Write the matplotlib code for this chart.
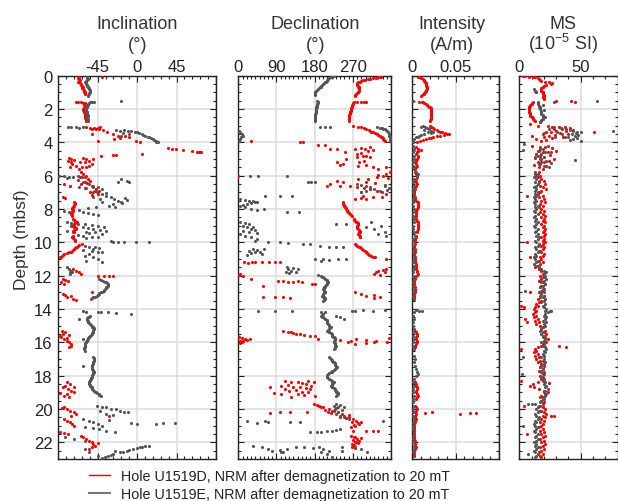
import matplotlib
matplotlib.use("Agg")
import matplotlib.pyplot as plt
from matplotlib.lines import Line2D
from matplotlib.ticker import MultipleLocator, FixedLocator, FixedFormatter

plt.rcParams["font.family"] = ["Liberation Sans", "DejaVu Sans"]
plt.rcParams["mathtext.fontset"] = "custom"
plt.rcParams["mathtext.rm"] = "Liberation Sans"
plt.rcParams["mathtext.default"] = "regular"
plt.rcParams["axes.unicode_minus"] = False

# ---------------------------------------------------------------- data
# (depth in mbsf, value) pairs per hole and per measurement

# Inclination (deg)
inc_d = [
    (0.05, -40),
    (0.1, -66), (0.15, -67), (0.2, -66), (0.25, -65), (0.3, -66), (0.35, -67), (0.4, -66),
    (0.45, -65), (0.5, -64), (0.55, -64), (0.6, -63), (0.65, -63), (0.7, -62), (0.75, -63),
    (0.8, -62), (0.85, -61), (0.9, -61), (0.95, -61), (1.0, -60), (1.05, -60), (1.1, -60),
    (1.55, -70), (1.58, -67), (1.6, -64), (1.62, -62), (1.65, -60), (1.7, -61), (1.75, -60),
    (1.8, -59), (1.85, -60), (1.9, -61), (1.95, -61), (2.0, -62), (2.05, -62), (2.1, -61),
    (2.15, -61), (2.2, -61), (2.25, -60), (2.3, -60), (2.35, -60), (2.4, -60), (2.45, -59),
    (2.5, -59), (2.55, -59), (2.6, -58), (2.65, -58), (2.7, -58),
    (3.05, -42), (3.1, -58), (3.12, -54), (3.15, -49), (3.15, -45), (3.2, -52), (3.2, -47),
    (3.22, -43), (3.25, -39), (3.4, -34), (3.5, -28), (3.5, -51), (3.6, -22), (3.6, -14),
    (3.7, -9), (3.76, -20), (3.8, -26), (3.9, -45), (3.9, -1), (3.96, 3),
    (4.35, 35), (4.38, 40), (4.4, 44), (4.45, 52), (4.52, 63), (4.55, 68), (4.57, 71),
    (4.55, 73), (4.6, 72), (4.7, 5), (4.76, -28), (4.78, -24), (4.8, -41),
    (4.95, -78), (4.95, -62), (5.0, -75), (5.0, -58), (5.02, -50), (5.05, -72), (5.1, -79),
    (5.1, -55), (5.15, -65), (5.2, -76), (5.2, -60), (5.3, -74), (5.3, -52), (5.4, -70),
    (5.4, -55), (5.45, -63), (5.5, -77), (5.5, -58), (5.6, -66),
    (5.8, -64), (5.9, -62), (6.0, -58), (6.05, -65), (6.1, -60), (6.2, -56), (6.25, -68),
    (6.3, -54), (6.4, -60), (6.45, -57), (6.5, -64), (6.5, -83), (6.6, -52), (6.6, -77),
    (6.7, -50), (6.75, -60), (6.8, -47), (6.9, -43), (6.95, -50), (7.0, -54), (7.1, -45),
    (7.15, -52), (7.3, -85), (7.32, -82),
    (7.6, -72), (7.65, -71), (7.7, -71), (7.75, -72), (7.8, -72), (7.85, -73), (7.9, -73),
    (7.95, -74), (8.0, -74), (8.05, -73), (8.1, -73), (8.15, -74), (8.2, -74), (8.25, -75),
    (8.3, -75), (8.35, -74), (8.4, -74),
    (8.6, -73), (8.65, -72), (8.7, -71), (8.75, -70), (8.8, -69), (8.85, -71), (8.9, -72),
    (8.95, -73), (9.0, -74), (9.05, -72), (9.1, -71), (9.15, -70), (9.2, -70), (9.25, -72),
    (9.3, -73), (9.35, -73), (9.4, -72),
    (9.6, -73), (9.65, -74), (9.7, -74), (9.75, -73), (9.8, -72), (9.85, -71), (9.9, -71),
    (10.1, -63), (10.15, -66), (10.2, -68), (10.25, -69), (10.3, -70), (10.35, -71),
    (10.4, -72), (10.45, -73), (10.5, -74), (10.55, -76), (10.6, -78), (10.65, -80),
    (10.7, -83), (10.75, -85), (10.8, -86), (10.85, -87), (10.9, -88),
    (11.6, -73), (11.7, -70), (11.75, -77), (11.8, -66), (11.9, -64),
    (12.0, -45), (12.0, -38), (12.02, -32), (12.0, -28),
    (12.2, -85), (12.25, -82), (12.3, -79), (12.4, -87), (12.5, -84),
    (13.0, -51), (13.1, -85), (13.15, -82), (13.2, -76), (13.3, -80), (13.4, -73), (13.45, -70),
    (15.3, -86), (15.4, -82), (15.5, -85), (15.55, -78), (15.6, -88), (15.7, -87), (15.75, -80),
    (15.8, -84), (15.9, -80), (16.0, -78), (16.1, -75), (16.2, -76), (16.3, -78),
    (18.4, -80), (18.5, -77), (18.6, -82), (18.65, -72), (18.7, -85), (18.8, -79), (18.9, -76),
    (19.0, -72), (19.05, -88), (19.1, -80), (19.2, -84), (19.3, -78),
    (19.9, -84), (19.95, -86), (20.0, -80), (20.1, -77), (20.2, -72), (20.3, -70), (20.4, -75),
    (20.4, -32),
    (20.6, -84), (20.7, -80), (20.8, -77), (20.9, -74), (21.0, -72),
    (21.4, -88), (21.45, -83), (21.5, -79),
    (21.6, -64), (21.7, -62), (21.8, -58), (21.9, -55), (22.0, -52), (22.05, -45), (22.1, -50),
    (22.2, -48), (22.3, -52), (22.4, -55),
]

inc_e = [
    (0.1, -57), (0.15, -57), (0.2, -56), (0.25, -57), (0.3, -58), (0.35, -58), (0.4, -59),
    (0.45, -58), (0.5, -58), (0.55, -57), (0.6, -57), (0.65, -56), (0.7, -56), (0.75, -55),
    (0.8, -55), (0.85, -54), (0.9, -54), (0.95, -54), (1.0, -54), (1.05, -55), (1.1, -55),
    (1.15, -56), (1.2, -56),
    (1.54, -19), (1.55, -52), (1.57, -49), (1.6, -54), (1.65, -55), (1.7, -56), (1.75, -56),
    (1.8, -57), (1.85, -57), (1.9, -57), (1.95, -58), (2.0, -58), (2.05, -58), (2.1, -58),
    (2.15, -57), (2.2, -57), (2.25, -57), (2.3, -57), (2.35, -56), (2.4, -56), (2.45, -57),
    (2.5, -57), (2.55, -57), (2.6, -56), (2.65, -56), (2.7, -56),
    (3.08, -79), (3.1, -75), (3.1, -70), (3.12, -66), (3.1, -62), (3.28, -24), (3.3, -20),
    (3.25, -15), (3.3, -11), (3.32, -7), (3.35, -3), (3.38, 0), (3.42, -16), (3.45, 2),
    (3.5, -9), (3.5, 5), (3.55, 7), (3.6, 9), (3.62, -19), (3.65, 12), (3.7, 14), (3.75, 16),
    (3.8, 18), (3.85, 19), (3.9, 21), (3.95, 22), (3.97, 24),
    (6.0, -89), (6.02, -84), (6.05, -78), (6.1, -73), (6.0, -67), (6.1, -63), (6.15, -80),
    (6.2, -18), (6.3, -12), (6.38, -9), (6.35, -22), (6.4, -62), (6.5, -55), (6.6, -50),
    (6.65, -66), (6.7, -45), (6.8, -40), (6.75, -58), (6.9, -48), (7.0, -46), (7.05, -36),
    (7.1, -40), (7.2, -35), (7.25, -50), (7.3, -30), (7.35, -14), (7.4, -26), (7.42, -42),
    (7.45, -12), (7.5, -22), (7.55, -19), (7.6, -40), (7.65, -17), (7.7, -28), (7.8, -32),
    (7.85, -47), (7.9, -25), (7.95, -56),
    (8.05, -66), (8.1, -83), (8.15, -78), (8.2, -62), (8.25, -56), (8.3, -50), (8.35, -45),
    (8.8, -80), (8.85, -75), (8.9, -68), (8.92, -60), (8.95, -52), (9.0, -45), (9.02, -75),
    (9.05, -38), (9.1, -62), (9.15, -56), (9.2, -50), (9.25, -42), (9.3, -35), (9.32, -80),
    (9.35, -58), (9.4, -48), (9.45, -55), (9.5, -40), (9.55, -67), (9.6, -62), (9.65, -52),
    (9.7, -45), (9.75, -58),
    (9.9, -30), (9.95, -22), (9.97, -27), (10.0, -15), (10.0, -1), (10.0, 13),
    (10.2, -60), (10.25, -48), (10.3, -55), (10.35, -43), (10.4, -50), (10.45, -62),
    (10.5, -52), (10.55, -45), (10.6, -40), (10.7, -55), (10.8, -60), (10.9, -50),
    (11.0, -45), (11.1, -58), (11.15, -40),
    (11.5, -80), (11.6, -78), (11.7, -76), (11.8, -74), (11.9, -77),
    (12.2, -43), (12.25, -41), (12.3, -39), (12.35, -37), (12.4, -35), (12.45, -34),
    (12.5, -33), (12.55, -33), (12.6, -33), (12.65, -34), (12.7, -35), (12.75, -36),
    (12.8, -37), (12.85, -38), (12.9, -38), (12.95, -40), (13.0, -41), (13.05, -43),
    (13.1, -44), (13.15, -45), (13.2, -46), (13.25, -48), (13.3, -50), (13.35, -52), (13.4, -53),
    (14.1, -62), (14.15, -58), (14.15, -45), (14.2, -41), (14.2, -33), (14.25, -24), (14.3, -7),
    (14.4, -54), (14.45, -55), (14.5, -56), (14.55, -57), (14.6, -57), (14.6, -66), (14.65, -57),
    (14.7, -56), (14.75, -56), (14.8, -56), (14.85, -55), (14.9, -54), (14.95, -53), (15.0, -52),
    (15.05, -51), (15.1, -50), (15.15, -49), (15.2, -49), (15.25, -50), (15.3, -50),
    (15.35, -50), (15.4, -50), (15.45, -51), (15.5, -52), (15.55, -53), (15.6, -54),
    (15.65, -55), (15.7, -55), (15.75, -56), (15.8, -56), (15.8, -62), (15.85, -57),
    (15.9, -57), (15.95, -58), (16.0, -58), (16.05, -59), (16.1, -59), (16.15, -60),
    (16.2, -60), (16.25, -60), (16.3, -60), (16.35, -61), (16.4, -61), (16.5, -60),
    (16.9, -50), (16.95, -49), (17.0, -49), (17.05, -49), (17.1, -49), (17.15, -50),
    (17.2, -50), (17.25, -50), (17.3, -50), (17.35, -51), (17.4, -51), (17.4, -62),
    (17.45, -51), (17.5, -51), (17.55, -51), (17.6, -51), (17.65, -50), (17.7, -50),
    (17.75, -49), (17.8, -49), (17.85, -50), (17.9, -50), (17.95, -51), (18.0, -51),
    (18.05, -52), (18.1, -52), (18.15, -53), (18.2, -53), (18.25, -54), (18.3, -54),
    (18.35, -55), (18.4, -55), (18.45, -55), (18.5, -55), (18.55, -54), (18.6, -54),
    (18.65, -53), (18.7, -52), (18.75, -52), (18.8, -51), (18.85, -50), (18.9, -49),
    (18.95, -48), (19.0, -47), (19.05, -46), (19.1, -44), (19.15, -43), (19.2, -41),
    (19.8, -46), (19.85, -40), (19.9, -35), (20.0, -30), (20.0, -24), (20.1, -20), (20.1, -42),
    (20.2, -15), (20.2, -10), (20.3, -36), (20.35, -28),
    (20.6, -62), (20.65, -32), (20.7, -55), (20.8, -50), (20.85, -7), (20.85, 30), (20.85, 43),
    (20.87, 0), (20.9, -45), (20.9, 21), (21.0, -40), (21.1, -60), (21.15, -50), (21.2, -43),
    (21.3, -35), (21.35, -25),
    (21.7, -82), (21.8, -72), (21.9, -60),
    (22.2, 13), (22.22, 9), (22.25, 6), (22.3, 3), (22.35, 0), (22.4, -5), (22.4, -60),
    (22.45, -9), (22.5, -12), (22.5, -25), (22.55, -16), (22.6, -20), (22.6, -55), (22.7, -27),
    (22.75, -30), (22.8, -33), (22.8, -45), (22.9, -37), (22.95, -40),
]

# Declination (deg)
dec_d = [
    (0.05, 337), (0.08, 334), (0.1, 330), (0.13, 324), (0.15, 318), (0.18, 311), (0.2, 305),
    (0.23, 299), (0.25, 295), (0.3, 290), (0.35, 286), (0.4, 283), (0.45, 281), (0.5, 280),
    (0.55, 281), (0.6, 282), (0.65, 283), (0.7, 284), (0.75, 285), (0.8, 285), (0.85, 285),
    (0.9, 284), (0.95, 283), (1.0, 282), (1.05, 280), (1.1, 278), (1.15, 276), (1.2, 275),
    (1.55, 279), (1.55, 290), (1.56, 297), (1.57, 302),
    (1.6, 272), (1.65, 271), (1.7, 270), (1.75, 269), (1.8, 268), (1.85, 267), (1.9, 267),
    (1.95, 266), (2.0, 266), (2.05, 265), (2.1, 265), (2.15, 264), (2.2, 264), (2.25, 263),
    (2.3, 263), (2.35, 262), (2.4, 262), (2.45, 261), (2.5, 261), (2.55, 261), (2.6, 260),
    (2.65, 260), (2.7, 261),
    (3.0, 271), (3.05, 282), (3.1, 290), (3.15, 296), (3.2, 302), (3.25, 307), (3.3, 310),
    (3.35, 314), (3.4, 318), (3.45, 322), (3.5, 326), (3.55, 330), (3.6, 333), (3.65, 336),
    (3.7, 338), (3.75, 340), (3.8, 342), (3.85, 344), (3.9, 345),
    (3.9, 31), (3.96, 145), (3.98, 152),
    (4.16, 188), (4.16, 204), (4.3, 310), (4.36, 290), (4.4, 216), (4.4, 232), (4.4, 275),
    (4.4, 298), (4.44, 318), (4.5, 305), (4.6, 251), (4.65, 290), (4.7, 279), (4.8, 294),
    (4.8, 302), (4.9, 279), (4.9, 310), (5.0, 255), (5.1, 296), (5.2, 232), (5.2, 285),
    (5.3, 247), (5.36, 239), (5.36, 302), (5.4, 283), (5.5, 318), (5.5, 349), (5.6, 330),
    (5.8, 357), (5.9, 349), (5.95, 330), (6.0, 341), (6.0, 0), (6.1, 326), (6.15, 352),
    (6.2, 306), (6.2, 283), (6.3, 232), (6.36, 247), (6.4, 300), (6.45, 322), (6.5, 216),
    (6.55, 345), (6.6, 208), (6.6, 239), (6.6, 263), (6.7, 279), (6.75, 296), (6.8, 310),
    (6.9, 326), (7.0, 338), (7.0, 290), (7.1, 349), (7.2, 294), (7.25, 318), (7.3, 338),
    (7.36, 290), (7.4, 275), (7.4, 302),
    (7.6, 247), (7.65, 247), (7.7, 248), (7.75, 249), (7.8, 250), (7.85, 251), (7.9, 252),
    (7.95, 253), (8.0, 255), (8.05, 256), (8.1, 257), (8.15, 258), (8.2, 259), (8.25, 261),
    (8.3, 263), (8.35, 265), (8.4, 267),
    (8.6, 272), (8.65, 273), (8.7, 275), (8.75, 278), (8.8, 280), (8.85, 282), (8.9, 283),
    (8.95, 282), (9.0, 281), (9.05, 280), (9.1, 279), (9.15, 281), (9.2, 283), (9.25, 285),
    (9.3, 287), (9.35, 286), (9.4, 285), (9.45, 284), (9.5, 283), (9.55, 285), (9.6, 286),
    (9.65, 287), (9.7, 287),
    (10.1, 275), (10.15, 278), (10.2, 281), (10.25, 284), (10.3, 287), (10.35, 290),
    (10.4, 292), (10.45, 295), (10.5, 298), (10.55, 300), (10.6, 302), (10.65, 304),
    (10.7, 306), (10.75, 309), (10.8, 312), (10.85, 317), (10.9, 322),
    (11.0, 349), (11.2, 14), (11.25, 22), (11.2, 32), (11.15, 40), (11.15, 55), (11.2, 72),
    (11.15, 86), (11.2, 98),
    (11.6, 349), (11.65, 340), (11.7, 330), (11.75, 345), (11.8, 325), (11.9, 320), (11.95, 335),
    (11.9, 5), (11.95, 2), (12.0, 10), (12.2, 31),
    (12.3, 94), (12.3, 106), (12.35, 118), (12.35, 130), (12.3, 140), (12.4, 149), (12.5, 173),
    (12.5, 180), (12.6, 59), (13.3, 59), (13.3, 86), (13.3, 105), (13.32, 122),
    (13.0, 275), (13.1, 290), (13.2, 300), (13.15, 320), (13.35, 320), (13.3, 335),
    (15.3, 106), (15.35, 116), (15.4, 125), (15.45, 130), (15.5, 137), (15.5, 145),
    (15.55, 155), (15.6, 169), (15.64, 180),
    (15.7, 2), (15.75, 8), (15.8, 15), (15.8, 28), (15.85, 20), (15.9, 12), (15.9, 5),
    (16.0, 8), (16.05, 3),
    (15.75, 355), (15.8, 188), (15.8, 278), (15.85, 240), (15.85, 300), (15.9, 265),
    (15.9, 325), (16.0, 258), (16.0, 320), (16.0, 350), (16.05, 300), (16.1, 275),
    (18.3, 110), (18.32, 165), (18.35, 125), (18.4, 140), (18.4, 178), (18.45, 150),
    (18.5, 160), (18.55, 118), (18.6, 100), (18.62, 172), (18.65, 130), (18.7, 75),
    (18.7, 145), (18.75, 160), (18.8, 170), (18.82, 110), (18.85, 135), (18.9, 120),
    (18.95, 150), (19.0, 165), (19.05, 85), (19.1, 100), (19.1, 140), (19.15, 155),
    (19.2, 180), (19.25, 125),
    (19.7, 178), (19.75, 185), (19.8, 190), (19.85, 196), (19.9, 200), (19.95, 230),
    (20.0, 215), (20.05, 205), (20.1, 225), (20.15, 212), (20.2, 235), (20.2, 98), (20.2, 122),
    (20.2, 161), (20.25, 75), (20.25, 218), (20.3, 245), (20.35, 260), (20.4, 250),
    (20.45, 240), (20.5, 262), (20.55, 255), (20.6, 270),
    (20.7, 278), (20.75, 290), (20.8, 268), (20.85, 282), (20.9, 285), (20.95, 272),
    (21.0, 275), (21.1, 265),
    (21.3, 271), (21.32, 300), (21.3, 318), (21.3, 330),
    (21.6, 265), (21.65, 275), (21.7, 272), (21.75, 290), (21.8, 280), (21.85, 270),
    (21.9, 285), (21.95, 278), (22.0, 275), (22.05, 283), (22.1, 268), (22.15, 272),
    (22.2, 270), (22.3, 267), (22.35, 275),
]

dec_e = [
    (0.02, 225), (0.05, 222), (0.08, 220), (0.1, 218), (0.15, 215), (0.2, 212), (0.25, 210),
    (0.3, 208), (0.35, 206), (0.4, 204), (0.45, 202), (0.5, 200), (0.55, 198), (0.6, 196),
    (0.65, 194), (0.7, 192), (0.75, 190), (0.8, 188), (0.85, 186), (0.9, 184), (0.95, 182),
    (1.0, 181), (1.05, 180), (1.1, 180), (1.15, 182),
    (1.5, 186), (1.55, 187), (1.6, 188), (1.65, 187), (1.7, 186), (1.75, 186), (1.8, 185),
    (1.85, 185), (1.9, 184), (1.95, 184), (2.0, 184), (2.05, 184), (2.1, 183), (2.15, 183),
    (2.2, 183), (2.25, 183), (2.3, 182), (2.35, 182), (2.4, 182), (2.45, 182), (2.5, 181),
    (2.55, 181), (2.6, 181), (2.65, 182), (2.7, 182),
    (3.05, 192), (3.05, 205), (3.08, 216),
    (3.1, 326), (3.12, 333), (3.15, 338), (3.18, 342), (3.2, 345), (3.25, 348), (3.3, 350),
    (3.4, 353), (3.5, 355), (3.6, 356), (3.7, 357), (3.8, 357), (3.9, 358),
    (3.3, 2), (3.4, 5), (3.5, 8), (3.6, 10), (3.7, 6), (3.8, 3), (3.9, 1),
    (6.0, 27), (6.0, 47), (6.0, 114), (6.4, 165), (6.4, 172), (6.35, 180),
    (6.5, 280), (6.55, 290), (6.6, 300), (6.6, 345), (6.7, 310), (6.75, 355), (6.8, 320),
    (6.85, 350), (6.9, 335), (6.9, 300), (7.0, 290),
    (7.2, 63), (7.2, 98), (7.2, 126),
    (7.4, 5), (7.45, 15), (7.5, 25), (7.5, 35), (7.55, 45), (7.6, 40), (7.65, 30), (7.7, 20),
    (7.75, 10), (7.8, 5), (7.9, 15), (8.0, 30), (8.05, 45), (8.0, 60), (8.2, 114), (8.2, 142),
    (8.8, 5), (8.85, 15), (8.9, 25), (9.0, 10), (9.05, 35), (9.1, 20), (9.2, 30), (9.25, 40),
    (9.3, 12), (9.4, 25), (9.45, 45), (9.5, 5), (9.6, 15), (9.65, 30),
    (8.8, 314), (8.9, 230), (8.9, 255), (9.0, 337), (9.1, 300), (9.2, 320), (9.4, 345),
    (9.5, 330), (9.6, 349),
    (9.8, 45), (9.9, 40), (9.95, 98), (10.0, 70), (10.05, 116), (10.1, 153), (10.1, 169),
    (10.2, 192), (10.25, 215), (10.3, 247), (10.3, 230),
    (10.4, 35), (10.45, 45), (10.5, 25), (10.55, 50), (10.6, 40), (10.65, 30), (10.7, 55),
    (10.4, 60), (10.75, 20),
    (11.0, 180), (11.0, 200), (11.05, 215), (11.0, 235), (11.0, 255), (11.1, 195),
    (11.5, 115), (11.55, 130), (11.6, 140), (11.7, 125), (11.75, 112), (11.8, 135),
    (11.85, 120), (11.6, 118),
    (11.95, 188), (12.0, 195), (12.05, 198), (12.1, 200), (12.15, 203), (12.2, 205),
    (12.25, 208), (12.3, 210), (12.35, 211), (12.4, 212), (12.45, 210), (12.5, 208),
    (12.55, 206), (12.6, 205), (12.65, 204), (12.7, 203), (12.75, 201), (12.8, 200),
    (12.85, 201), (12.9, 202), (12.95, 204), (13.0, 205), (13.05, 202), (13.1, 200),
    (13.15, 199), (13.2, 198), (13.25, 200), (13.3, 202), (13.35, 204), (13.4, 205),
    (13.45, 202), (13.5, 200),
    (14.1, 47), (14.1, 87), (14.1, 126), (14.15, 195), (14.2, 205), (14.1, 267), (14.1, 275),
    (14.05, 294), (14.1, 318), (14.05, 345),
    (14.3, 200), (14.35, 197), (14.4, 195), (14.45, 198), (14.5, 200), (14.55, 203),
    (14.6, 205), (14.65, 208), (14.7, 210), (14.75, 209), (14.8, 208), (14.85, 210),
    (14.9, 212), (14.95, 214), (15.0, 215), (15.05, 217), (15.1, 218), (15.15, 216),
    (15.2, 215), (15.25, 212), (15.3, 210), (15.35, 213), (15.4, 215), (15.45, 218),
    (15.5, 220), (15.55, 221), (15.6, 222), (15.65, 224), (15.7, 225), (15.75, 227),
    (15.8, 228), (15.85, 227), (15.9, 226), (15.95, 225), (16.0, 225), (16.05, 227),
    (16.1, 228), (16.15, 229), (16.2, 230), (16.25, 229), (16.3, 228), (16.35, 227),
    (16.4, 226), (14.4, 230), (14.5, 240), (14.6, 250),
    (16.9, 215), (16.95, 216), (17.0, 218), (17.05, 220), (17.1, 222), (17.15, 224),
    (17.2, 225), (17.25, 227), (17.3, 228), (17.35, 229), (17.4, 230), (17.45, 231),
    (17.5, 232), (17.55, 230), (17.6, 228), (17.65, 225), (17.7, 222), (17.75, 220),
    (17.8, 218), (17.85, 215), (17.9, 212), (17.95, 210), (18.0, 208), (18.05, 209),
    (18.1, 210), (18.15, 212), (18.2, 215), (18.25, 218), (18.3, 220), (18.35, 222),
    (18.4, 225), (18.45, 224), (18.5, 222), (18.55, 220), (18.6, 218), (18.65, 220),
    (18.7, 222), (18.75, 225), (18.8, 228), (18.85, 229), (18.9, 230), (18.95, 231),
    (19.0, 232), (19.05, 234), (19.1, 235), (19.15, 232), (19.2, 230),
    (19.7, 230), (19.75, 240), (19.8, 225), (19.85, 250), (19.9, 235), (20.0, 228),
    (20.05, 245), (20.1, 220), (20.2, 235), (20.3, 230), (20.4, 240), (20.5, 250), (20.6, 260),
    (20.7, 20), (20.85, 43), (20.7, 63), (20.75, 70), (20.8, 122), (20.75, 145), (20.7, 340),
    (21.35, 169), (21.35, 185), (21.35, 195), (21.3, 208), (21.3, 220), (21.25, 230),
    (21.2, 240),
    (22.2, 35), (22.3, 55), (22.4, 70), (22.5, 80), (22.45, 98), (22.55, 106), (22.6, 100),
    (22.4, 115), (22.3, 135), (22.3, 155), (22.35, 175), (22.25, 190), (22.4, 200),
    (22.5, 215), (22.6, 195), (22.7, 210), (22.9, 220), (22.5, 245), (22.3, 245),
    (22.2, 275), (22.4, 290), (22.6, 303),
]

# NRM intensity (A/m)
int_d = [
    (0.05, 0.006), (0.1, 0.008), (0.15, 0.010), (0.2, 0.012), (0.25, 0.013), (0.3, 0.014),
    (0.35, 0.015), (0.4, 0.015), (0.45, 0.016), (0.5, 0.016), (0.55, 0.016), (0.6, 0.016),
    (0.65, 0.017), (0.7, 0.017), (0.75, 0.017), (0.8, 0.017), (0.85, 0.016), (0.9, 0.016),
    (0.95, 0.015), (1.0, 0.015), (1.05, 0.014), (1.1, 0.013), (1.15, 0.011), (1.2, 0.010),
    (1.55, 0.008), (1.58, 0.011), (1.6, 0.012), (1.65, 0.014), (1.7, 0.016), (1.75, 0.017),
    (1.8, 0.018), (1.85, 0.019), (1.9, 0.020), (1.95, 0.021), (2.0, 0.021), (2.05, 0.022),
    (2.1, 0.022), (2.15, 0.022), (2.2, 0.022), (2.25, 0.022), (2.3, 0.022), (2.35, 0.021),
    (2.4, 0.021), (2.45, 0.021), (2.5, 0.021), (2.55, 0.021), (2.6, 0.021), (2.65, 0.020),
    (2.7, 0.020),
    (3.0, 0.020), (3.05, 0.022), (3.1, 0.021), (3.15, 0.024), (3.2, 0.025), (3.25, 0.028),
    (3.3, 0.030), (3.35, 0.032), (3.4, 0.034), (3.45, 0.038), (3.5, 0.042), (3.52, 0.040),
    (3.55, 0.036), (3.6, 0.032), (3.64, 0.028), (3.68, 0.024), (3.72, 0.021), (3.76, 0.019),
    (3.8, 0.016), (3.85, 0.012), (3.9, 0.009), (3.95, 0.005), (4.0, 0.001),
    (4.3, 0.004), (4.4, 0.006), (4.45, 0.010), (4.5, 0.007), (4.6, 0.005), (4.7, 0.004),
    (4.8, 0.006), (4.9, 0.007), (5.0, 0.005), (5.1, 0.004), (5.2, 0.003), (5.3, 0.004),
    (5.4, 0.005), (5.5, 0.004), (5.6, 0.003), (5.8, 0.003), (5.9, 0.004), (6.0, 0.005),
    (6.1, 0.005), (6.2, 0.004), (6.3, 0.003), (6.4, 0.004), (6.5, 0.005), (6.6, 0.004),
    (6.7, 0.003), (6.8, 0.003), (6.9, 0.002), (7.0, 0.002), (7.1, 0.002), (7.2, 0.002),
    (7.3, 0.003), (7.4, 0.003), (7.5, 0.004), (7.6, 0.006), (7.7, 0.007), (7.8, 0.007),
    (7.9, 0.006), (8.0, 0.005), (8.1, 0.004), (8.2, 0.004), (8.3, 0.004), (8.4, 0.004),
    (8.6, 0.004), (8.7, 0.005), (8.8, 0.006), (8.9, 0.007), (9.0, 0.006), (9.1, 0.006),
    (9.2, 0.006), (9.3, 0.005), (9.4, 0.005), (9.6, 0.004), (9.7, 0.004), (9.8, 0.003),
    (9.9, 0.003), (10.1, 0.003), (10.2, 0.002), (10.3, 0.002), (10.4, 0.003), (10.5, 0.003),
    (10.6, 0.003), (10.7, 0.002), (10.8, 0.002), (10.9, 0.003), (11.0, 0.003), (11.1, 0.003),
    (11.2, 0.003), (11.3, 0.004), (11.4, 0.004), (11.5, 0.004), (11.6, 0.004), (11.7, 0.005),
    (11.8, 0.005), (11.9, 0.006), (12.0, 0.004), (12.1, 0.003), (12.2, 0.003), (12.3, 0.002),
    (12.4, 0.002), (12.5, 0.002), (12.6, 0.002), (12.7, 0.003), (12.8, 0.003), (12.9, 0.003),
    (13.0, 0.003), (13.1, 0.002), (13.2, 0.002), (13.3, 0.002), (13.4, 0.002),
    (15.3, 0.003), (15.4, 0.004), (15.5, 0.005), (15.6, 0.005), (15.7, 0.004), (15.8, 0.004),
    (15.9, 0.005), (16.0, 0.005), (16.1, 0.004), (16.2, 0.003), (16.3, 0.003),
    (18.4, 0.003), (18.5, 0.004), (18.6, 0.004), (18.7, 0.005), (18.8, 0.005), (18.9, 0.004),
    (19.0, 0.004), (19.1, 0.005), (19.2, 0.006), (19.3, 0.005), (19.4, 0.004),
    (19.8, 0.003), (19.9, 0.004), (20.0, 0.005), (20.1, 0.004), (20.2, 0.003), (20.3, 0.004),
    (20.4, 0.003), (20.5, 0.003), (20.6, 0.004), (20.7, 0.003), (20.8, 0.003), (20.9, 0.002),
    (21.0, 0.002), (21.1, 0.002), (21.2, 0.002), (21.3, 0.002), (21.4, 0.002), (21.5, 0.002),
    (21.6, 0.002), (21.7, 0.002), (21.8, 0.002), (21.9, 0.003), (22.0, 0.003), (22.1, 0.003),
    (22.2, 0.003), (22.3, 0.004), (22.4, 0.003), (22.5, 0.002), (22.6, 0.002), (22.7, 0.002),
    (22.8, 0.002),
    (20.25, 0.015), (20.2, 0.023), (20.3, 0.055), (20.25, 0.067), (20.25, 0.073),
]

int_e = [
    (1.5, 0.0005),
    (3.0, 0.012), (3.05, 0.015), (3.1, 0.010), (3.15, 0.017), (3.2, 0.019), (3.25, 0.014),
    (3.3, 0.022), (3.35, 0.024), (3.4, 0.018), (3.45, 0.021), (3.5, 0.013), (3.55, 0.010),
    (3.6, 0.008), (3.65, 0.006), (3.7, 0.004), (3.8, 0.002),
    (4.0, 0.001), (4.2, 0.001), (4.4, 0.002), (4.6, 0.001), (4.8, 0.002), (5.0, 0.002),
    (5.2, 0.001), (5.4, 0.001), (5.6, 0.002), (5.8, 0.004), (5.9, 0.006), (6.0, 0.005),
    (6.2, 0.002), (6.4, 0.001), (6.6, 0.002), (6.8, 0.001), (7.0, 0.001), (7.2, 0.002),
    (7.4, 0.001), (7.6, 0.001), (7.8, 0.001), (8.0, 0.002), (8.2, 0.001), (8.4, 0.001),
    (8.6, 0.002), (8.8, 0.002), (9.0, 0.001), (9.2, 0.001), (9.4, 0.002), (9.6, 0.003),
    (9.8, 0.001), (10.0, 0.001), (10.2, 0.001), (10.4, 0.002), (10.6, 0.001), (10.8, 0.002),
    (11.0, 0.002), (11.2, 0.001), (11.4, 0.002), (11.6, 0.002), (11.8, 0.001), (12.0, 0.001),
    (12.2, 0.002), (12.4, 0.001), (12.6, 0.001), (12.8, 0.002), (13.0, 0.001), (13.2, 0.001),
    (13.4, 0.002), (14.05, 0.004), (14.1, 0.008), (14.12, 0.011), (14.2, 0.002), (14.4, 0.001),
    (14.6, 0.002), (14.8, 0.001), (15.0, 0.001), (15.2, 0.002), (15.4, 0.001), (15.6, 0.001),
    (15.8, 0.002), (16.0, 0.001), (16.2, 0.001), (16.4, 0.002), (16.8, 0.002), (17.0, 0.003),
    (17.2, 0.002), (17.4, 0.003), (17.6, 0.004), (17.8, 0.005), (17.9, 0.006), (18.0, 0.004),
    (18.2, 0.002), (18.4, 0.001), (18.6, 0.002), (18.8, 0.001), (19.0, 0.001), (19.2, 0.002),
    (19.4, 0.001), (19.6, 0.001), (19.8, 0.002), (20.0, 0.001), (20.2, 0.001), (20.4, 0.001),
    (20.6, 0.002), (20.8, 0.001), (21.0, 0.001), (21.2, 0.001), (21.4, 0.002), (21.6, 0.001),
    (21.8, 0.001), (22.0, 0.001), (22.2, 0.002), (22.4, 0.002), (22.6, 0.001), (22.8, 0.002),
]

# Magnetic susceptibility (10^-5 SI)
ms_d = [
    (0.02, 3), (0.04, 5), (0.06, 8), (0.08, 11), (0.1, 13), (0.15, 15), (0.2, 16), (0.25, 17),
    (0.3, 18), (0.35, 21), (0.4, 24), (0.45, 27), (0.5, 26), (0.55, 22), (0.6, 20), (0.65, 19),
    (0.7, 19), (0.75, 18), (0.8, 18), (0.85, 18), (0.9, 18), (0.9, 13), (0.95, 19), (1.0, 19),
    (1.0, 14), (1.05, 19), (1.1, 19), (1.15, 20), (1.2, 20), (1.25, 19), (1.3, 19), (1.35, 20),
    (1.4, 20), (1.5, 30), (1.5, 42), (1.6, 45),
    (1.6, 11), (1.65, 10), (1.7, 10), (1.75, 9), (1.8, 9), (1.85, 8), (1.9, 8), (1.95, 8),
    (2.0, 8), (2.05, 8), (2.1, 8), (2.15, 8), (2.2, 8), (2.25, 9), (2.3, 9), (2.35, 9),
    (2.4, 9), (2.45, 10), (2.5, 10), (2.55, 11), (2.6, 11), (2.65, 12), (2.7, 13),
    (2.9, 9), (3.0, 15),
    (3.0, 23), (3.05, 27), (3.1, 32), (3.1, 37), (3.15, 41), (3.2, 28), (3.2, 35), (3.25, 44),
    (3.3, 30), (3.3, 38), (3.35, 22), (3.35, 61), (3.4, 26), (3.45, 33), (3.5, 40), (3.5, 19),
    (3.55, 29), (3.6, 24), (3.6, 10), (3.65, 36), (3.7, 20), (3.75, 27), (3.8, 14), (3.85, 22),
    (3.9, 18),
    (4.2, 10), (4.3, 21), (4.35, 27), (4.4, 17), (4.5, 15), (4.5, 30), (4.55, 23), (4.6, 19),
    (4.7, 14), (4.75, 25), (4.8, 17), (4.9, 20), (4.95, 13), (5.0, 18), (5.0, 28), (5.1, 24),
    (5.15, 15), (5.2, 20), (5.3, 17), (5.35, 12), (5.4, 22), (5.5, 16), (5.6, 19),
    (5.8, 16), (5.9, 13), (6.0, 17), (6.1, 15), (6.2, 18), (6.3, 20), (6.4, 16), (6.5, 21),
    (6.6, 17), (6.7, 19), (6.8, 22), (6.9, 18), (7.0, 17), (7.1, 15), (7.2, 19), (7.3, 16),
    (7.4, 20), (7.5, 18), (7.6, 21), (7.7, 17), (7.8, 19), (7.9, 16), (8.0, 18), (8.1, 20),
    (8.2, 17), (8.3, 19), (8.4, 21), (8.5, 18), (8.6, 20), (8.7, 19), (8.8, 21), (8.9, 18),
    (9.0, 20), (9.1, 19), (9.2, 21), (9.3, 20), (9.4, 19), (9.5, 21), (9.6, 20), (9.7, 18),
    (9.8, 20), (9.9, 19), (10.0, 21), (10.1, 19), (10.2, 18), (10.3, 20), (10.4, 19),
    (10.5, 17), (10.6, 18), (10.7, 20), (10.8, 19), (10.9, 17), (11.0, 18), (11.1, 16),
    (11.2, 19), (11.3, 17), (11.4, 15), (11.5, 13), (11.6, 16), (11.7, 18), (11.8, 21),
    (11.9, 19), (12.0, 17), (12.1, 20), (12.2, 18), (12.3, 16), (12.4, 19), (12.5, 21),
    (12.6, 18), (12.7, 17), (12.8, 20), (12.9, 19), (13.0, 16), (13.1, 18), (13.2, 20),
    (13.3, 17), (13.4, 15), (13.5, 18), (13.6, 16), (13.7, 14), (13.8, 15), (13.9, 13),
    (14.0, 12), (14.1, 14), (14.2, 13), (14.3, 11), (14.4, 14), (14.5, 12), (14.6, 15),
    (14.7, 13), (14.8, 16), (14.9, 14), (15.0, 17), (15.1, 19), (15.2, 18), (15.3, 21),
    (15.4, 20), (15.5, 22), (15.6, 19), (15.7, 21), (15.8, 23), (15.9, 20), (16.0, 22),
    (16.1, 19), (16.2, 18), (16.3, 15), (16.4, 13), (16.5, 14), (16.6, 12), (16.7, 15),
    (16.8, 13), (16.9, 16), (17.0, 14), (17.1, 17), (17.2, 15), (17.3, 18), (17.4, 20),
    (17.5, 17), (17.6, 19), (17.7, 16), (17.8, 18), (17.9, 20), (18.0, 17), (18.1, 19),
    (18.2, 18), (18.3, 20), (18.4, 15), (18.5, 11), (18.6, 9), (18.7, 12), (18.8, 16),
    (18.9, 20), (19.0, 23), (19.1, 21), (19.2, 18), (19.3, 17), (19.4, 19), (19.5, 18),
    (19.6, 20), (19.7, 19), (19.8, 17), (19.9, 19), (20.0, 21), (20.1, 18), (20.2, 20),
    (20.3, 22), (20.4, 19), (20.5, 21), (20.6, 18), (20.7, 20), (20.8, 17), (20.9, 19),
    (21.0, 18), (21.1, 16), (21.2, 19), (21.3, 17), (21.4, 20), (21.5, 18), (21.6, 21),
    (21.7, 19), (21.8, 17), (21.9, 20), (22.0, 18), (22.1, 21), (22.2, 19), (22.3, 17),
    (22.4, 20), (22.5, 18), (22.6, 16), (22.7, 19), (22.8, 17), (22.9, 18),
    (7.2, 6), (10.0, 6), (10.9, 9), (13.0, 9), (13.8, 1), (13.85, 4), (14.6, 5), (14.8, 6),
    (16.2, 32), (16.25, 38), (16.4, 1), (18.3, 1), (18.45, 24), (19.8, 4), (20.4, 26),
    (20.42, 28), (21.5, 6),
]

ms_e = [
    (0.8, 12), (0.9, 13), (1.0, 14), (1.5, 63), (1.6, 28),
    (1.6, 15), (1.65, 15), (1.7, 15), (1.75, 19), (1.8, 16), (1.85, 16), (1.9, 17), (1.95, 17),
    (2.0, 17), (2.05, 20), (2.1, 18), (2.15, 18), (2.2, 18), (2.25, 18), (2.3, 18), (2.35, 19),
    (2.4, 19), (2.45, 19), (2.5, 19), (2.5, 21), (2.55, 19), (2.6, 19), (2.65, 18), (2.7, 18),
    (2.75, 17), (2.8, 17),
    (3.1, 28), (3.15, 34), (3.2, 38), (3.2, 24), (3.25, 41), (3.3, 44), (3.3, 76), (3.35, 47),
    (3.4, 50), (3.4, 31), (3.45, 46), (3.45, 20), (3.5, 43), (3.5, 35), (3.55, 48), (3.6, 45),
    (3.65, 40), (3.7, 37), (3.7, 29), (3.75, 47), (3.8, 44), (3.85, 41), (3.9, 50),
    (4.1, 4), (4.2, 23), (4.3, 17), (4.4, 19), (4.45, 3), (4.5, 16), (4.6, 21), (4.6, 26),
    (4.7, 18), (4.8, 15), (4.9, 20), (4.9, 13), (5.0, 17), (5.05, 45), (5.1, 22), (5.2, 18),
    (5.25, 26), (5.3, 16), (5.4, 20), (5.5, 24),
    (5.8, 13), (5.9, 15), (6.0, 14), (6.1, 12), (6.2, 14), (6.3, 16), (6.4, 13), (6.5, 15),
    (6.6, 14), (6.7, 12), (6.8, 14), (6.9, 13), (7.0, 15), (7.1, 13), (7.2, 14), (7.3, 12),
    (7.4, 13), (7.5, 14), (7.6, 12), (7.7, 13), (7.8, 15), (7.9, 13), (8.0, 14), (8.1, 12),
    (8.2, 13), (8.3, 15), (8.4, 13), (8.5, 12), (8.6, 14), (8.7, 13), (8.8, 15), (8.9, 14),
    (9.0, 12), (9.1, 13), (9.2, 15), (9.3, 14), (9.4, 13), (9.5, 15), (9.6, 14), (9.7, 16),
    (9.8, 15), (9.9, 13), (10.0, 14), (10.1, 16), (10.2, 15), (10.3, 13), (10.4, 14),
    (10.5, 16), (10.6, 15), (10.7, 13), (10.8, 14), (10.9, 12), (11.0, 13), (11.1, 15),
    (11.2, 14), (11.3, 12), (11.4, 14), (11.5, 16), (11.6, 18), (11.7, 20), (11.8, 22),
    (11.9, 20), (12.0, 21), (12.1, 19), (12.2, 22), (12.3, 20), (12.4, 18), (12.5, 21),
    (12.6, 19), (12.7, 17), (12.8, 19), (12.9, 18), (13.0, 20), (13.1, 18), (13.2, 17),
    (13.3, 19), (13.4, 21), (13.5, 20), (13.6, 18), (13.7, 21), (13.8, 19), (13.9, 20),
    (14.0, 22), (14.1, 21), (14.2, 23), (14.3, 21), (14.4, 20), (14.5, 22), (14.6, 21),
    (14.7, 19), (14.8, 22), (14.9, 20), (15.0, 21), (15.1, 19), (15.2, 18), (15.3, 17),
    (15.4, 19), (15.5, 18), (15.6, 20), (15.7, 19), (15.8, 21), (15.9, 20), (16.0, 18),
    (16.1, 20), (16.2, 19), (16.3, 21), (16.4, 22), (16.5, 20), (16.6, 21), (16.7, 19),
    (16.8, 20), (16.9, 18), (17.0, 20), (17.1, 19), (17.2, 21), (17.3, 20), (17.4, 18),
    (17.5, 17), (17.6, 19), (17.7, 18), (17.8, 20), (17.9, 19), (18.0, 17), (18.1, 18),
    (18.2, 20), (18.3, 19), (18.4, 21), (18.5, 20), (18.6, 22), (18.7, 21), (18.8, 23),
    (18.9, 21), (19.0, 20), (19.1, 22), (19.2, 21), (19.3, 19), (19.4, 20), (19.5, 18),
    (19.6, 17), (19.7, 19), (19.8, 16), (19.9, 15), (20.0, 14), (20.1, 16), (20.2, 15),
    (20.3, 13), (20.4, 14), (20.5, 16), (20.6, 15), (20.7, 13), (20.8, 14), (20.9, 12),
    (21.0, 13), (21.1, 15), (21.2, 14), (21.3, 12), (21.4, 13), (21.5, 15), (21.6, 14),
    (21.7, 13), (21.8, 15), (21.9, 14), (22.0, 12), (22.1, 14), (22.2, 13), (22.3, 15),
    (22.4, 14), (22.5, 12), (22.6, 13), (22.7, 15), (22.8, 14), (22.9, 13),
    (12.9, 5), (14.1, 25), (14.12, 26), (16.9, 3), (17.9, 2), (19.7, 7), (19.72, 10),
    (19.7, 13), (21.0, 3), (22.7, 7),
]

panel_titles = ["Inclination", "Declination", "Intensity", "MS"]
panel_units = ["(°)", "(°)", "(A/m)", "(10$^{-5}$ SI)"]
legend_labels = [
    "Hole U1519D, NRM after demagnetization to 20 mT",
    "Hole U1519E, NRM after demagnetization to 20 mT",
]

# ---------------------------------------------------------------- styling
RED = "#ff0000"
GRAY = "#555555"
INK = "#333333"
W, H = 618, 502
TOP, BOTTOM = 76.7, 460.0

panels = [
    dict(x=(58.3, 216.0), data=(inc_d, inc_e), lim=(-90, 90), ticks=[-90, -45, 0, 45, 90],
         labels=["", "-45", "0", "45", ""], minor=9, title_dx=0),
    dict(x=(238.3, 391.0), data=(dec_d, dec_e), lim=(0, 360), ticks=[0, 90, 180, 270, 360],
         labels=["0", "90", "180", "270", ""], minor=10, title_dx=1),
    dict(x=(412.3, 499.0), data=(int_d, int_e), lim=(0, 0.1), ticks=[0, 0.05, 0.1],
         labels=["0", "0.05", ""], minor=0.01, title_dx=-4),
    dict(x=(519.3, 617.5), data=(ms_d, ms_e), lim=(0, 80), ticks=[0, 50],
         labels=["0", "50"], minor=10, title_dx=-5),
]

fig = plt.figure(figsize=(W / 100, H / 100), dpi=100)

for i, p in enumerate(panels):
    x0, x1 = p["x"]
    ax = fig.add_axes([x0 / W, 1 - BOTTOM / H, (x1 - x0) / W, (BOTTOM - TOP) / H])
    ax.set_xlim(*p["lim"])
    ax.set_ylim(23, 0)
    ax.set_axisbelow(True)

    for series, color in zip(p["data"], (RED, GRAY)):
        depth = [d for d, _ in series]
        value = [v for _, v in series]
        ax.scatter(value, depth, s=5, c=color, marker="o", linewidths=0, zorder=3)

    ax.xaxis.set_major_locator(FixedLocator(p["ticks"]))
    ax.xaxis.set_major_formatter(FixedFormatter(p["labels"]))
    ax.xaxis.set_minor_locator(MultipleLocator(p["minor"]))
    ax.yaxis.set_major_locator(MultipleLocator(2))
    ax.yaxis.set_minor_locator(MultipleLocator(0.5))

    ax.grid(True, which="major", color="#dcdcdc", linewidth=1.1)
    ax.tick_params(which="both", direction="in", top=True, bottom=True, left=True, right=True,
                   labeltop=True, labelbottom=False, labelleft=(i == 0), labelright=False,
                   color="#222222", width=0.8, labelsize=12, labelcolor="#222222")
    ax.tick_params(axis="x", which="both", pad=1.5)
    ax.tick_params(axis="y", which="both", pad=4)
    ax.tick_params(which="major", length=4)
    ax.tick_params(which="minor", length=2.2)
    for sp in ax.spines.values():
        sp.set_color("#222222")
        sp.set_linewidth(1.0)

    cx = ((x0 + x1) / 2 + p["title_dx"]) / W
    fig.text(cx, 1 - 29.5 / H, panel_titles[i], ha="center", va="baseline",
             fontsize=13, color=INK)
    fig.text(cx, 1 - 50 / H, panel_units[i], ha="center", va="baseline",
             fontsize=13, color=INK)

fig.text(22 / W, 1 - 240 / H, "Depth (mbsf)", rotation=90,
         ha="center", va="center", fontsize=12.5, color=INK)

handles = [Line2D([], [], color=RED, lw=1.0), Line2D([], [], color="#777777", lw=1.5)]
fig.legend(handles, legend_labels, loc="upper left", bbox_to_anchor=(89 / W, 1 - 470 / H),
           frameon=False, fontsize=10.3, handlelength=1.5, handletextpad=0.75,
           labelspacing=0.3, borderpad=0, borderaxespad=0, labelcolor="#222222")

fig.savefig("out.png", dpi=100)
